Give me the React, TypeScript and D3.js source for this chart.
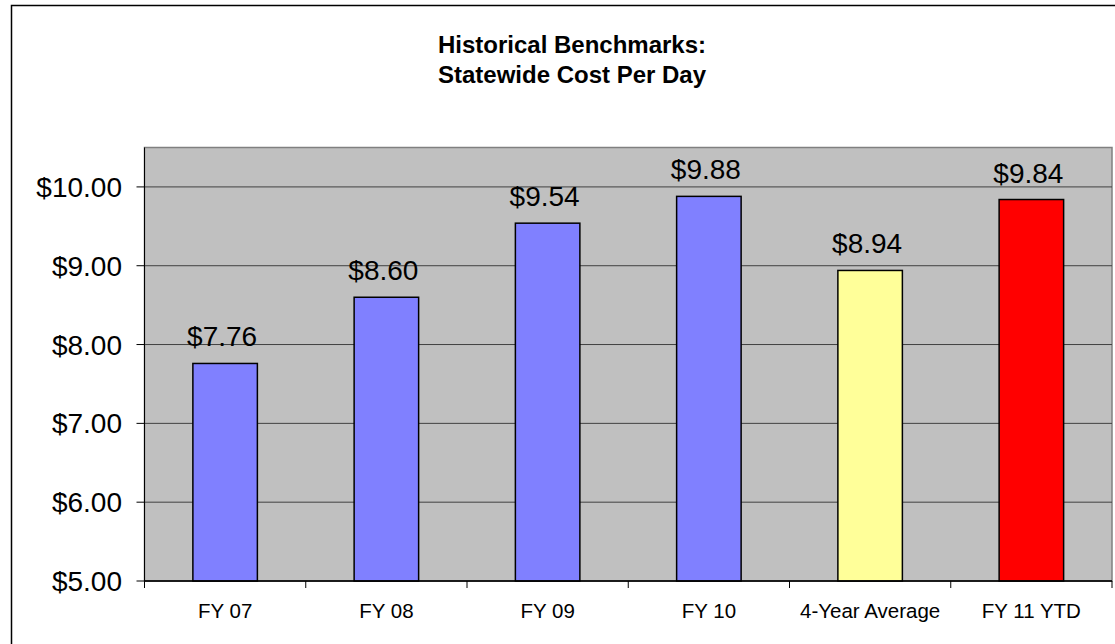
import React from "react";
import * as d3 from "d3";

const categories = ["FY 07", "FY 08", "FY 09", "FY 10", "4-Year Average", "FY 11 YTD"];
const values = [7.76, 8.6, 9.54, 9.88, 8.94, 9.84];
const barColors = ["#8080FF", "#8080FF", "#8080FF", "#8080FF", "#FFFF99", "#FF0000"];
const yTicks = [5, 6, 7, 8, 9, 10];
const titleLines = ["Historical Benchmarks:", "Statewide Cost Per Day"];

const W = 1115;
const H = 644;
const plot = { left: 144.5, right: 1112, top: 147.5, bottom: 581 };
const FONT = "'Liberation Sans', Arial, sans-serif";

export default function App() {
  const x = d3.scaleBand<string>().domain(categories).range([plot.left, plot.right]).padding(0);
  const y = d3.scaleLinear().domain([5, 10.5]).range([plot.bottom, plot.top]);
  const bw = x.bandwidth() * 0.4;
  const fmt = (v: number) => "$" + d3.format(".2f")(v);
  const boundaries = categories.map((c) => x(c)!).concat([plot.right]);

  return (
    <svg width={W} height={H} style={{ position: "absolute", left: 0, top: 0, background: "#fff" }} fontFamily={FONT}>
      <rect x={11.5} y={5.5} width={W + 10} height={H + 10} fill="#fff" stroke="#000" strokeWidth={1.5} />
      {titleLines.map((t, i) => (
        <text key={t} x={572} y={53 + i * 30} textAnchor="middle" fontWeight="bold" fontSize={24} fill="#000">
          {t}
        </text>
      ))}
      <rect
        x={plot.left}
        y={plot.top}
        width={plot.right - plot.left}
        height={plot.bottom - plot.top}
        fill="#C0C0C0"
        stroke="#808080"
        strokeWidth={1.5}
      />
      {yTicks.map((t) => (
        <g key={t}>
          <line x1={plot.left} x2={plot.right} y1={y(t)} y2={y(t)} stroke="#404040" strokeWidth={1} />
          <line x1={plot.left - 8} x2={plot.left} y1={y(t)} y2={y(t)} stroke="#000" strokeWidth={1} />
          <text x={122} y={y(t)} dy="0.36em" textAnchor="end" fontSize={28} fill="#000">
            {fmt(t)}
          </text>
        </g>
      ))}
      {categories.map((c, i) => {
        const cx = x(c)! + x.bandwidth() / 2;
        return (
          <g key={c}>
            <rect
              x={cx - bw / 2}
              y={y(values[i])}
              width={bw}
              height={plot.bottom - y(values[i])}
              fill={barColors[i]}
              stroke="#000"
              strokeWidth={1.5}
            />
            <text x={cx - 3} y={y(values[i]) - 17} textAnchor="middle" fontSize={28} fill="#000">
              {fmt(values[i])}
            </text>
            <text x={cx} y={618} textAnchor="middle" fontSize={20.5} fill="#000">
              {c}
            </text>
          </g>
        );
      })}
      <line x1={plot.left} x2={plot.left} y1={plot.top} y2={plot.bottom} stroke="#000" strokeWidth={1} />
      <line x1={plot.left} x2={plot.right} y1={plot.bottom} y2={plot.bottom} stroke="#000" strokeWidth={1.5} />
      {boundaries.map((b, i) => (
        <line key={i} x1={b} x2={b} y1={plot.bottom} y2={plot.bottom + 7} stroke="#000" strokeWidth={1} />
      ))}
    </svg>
  );
}
